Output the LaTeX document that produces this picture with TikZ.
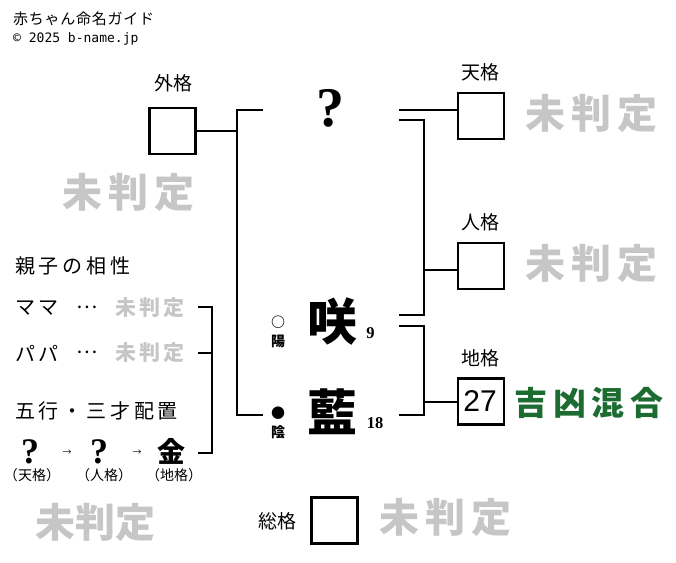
\documentclass[tikz,border=0pt]{standalone}
\usepackage{fontspec}
\setmainfont{Liberation Serif}
\newfontfamily\jp{Noto Sans CJK JP}
\newfontfamily\jphead{Noto Sans CJK JP}[LetterSpace=5]
\newfontfamily\jpsect{Noto Sans CJK JP}[LetterSpace=19]
\newfontfamily\jppend{Noto Sans CJK JP}[LetterSpace=15]
\newfontfamily\jpgood{Noto Sans CJK JP}[LetterSpace=18]
\newfontfamily\mono{DejaVu Sans Mono}
\newfontfamily\lsans{Liberation Sans}
\definecolor{pendgray}{RGB}{198,198,198}
\definecolor{goodgreen}{RGB}{28,108,50}
\newcommand{\fs}[1]{\fontsize{#1}{#1}\selectfont}
\begin{document}
\begin{tikzpicture}[x=1pt,y=-1pt,
  every node/.style={inner sep=0pt},
  kbox/.style={draw, line width=2.4pt, minimum width=46pt, minimum height=46pt},
  conn/.style={line width=1.2pt},
  lbl/.style={font=\jp\fs{19}},
  pendbig/.style={text=pendgray, font=\jppend\bfseries\fs{40}},
  pendsmall/.style={text=pendgray, font=\jppend\bfseries\fs{21}},
  namechar/.style={font=\jp\bfseries\fs{50}},
  strokes/.style={font=\bfseries\fs{16.5}},
  yinyang/.style={font=\jp\bfseries\fs{14}},
  sect/.style={font=\jpsect\fs{20}, anchor=west},
  kakulbl/.style={font=\jp\fs{14}}
]
\useasboundingbox (0,0) rectangle (676,562);
% header
\node[anchor=west, font=\jphead\fs{15}] (title) at (13,19) {赤ちゃん命名ガイド};
\node[anchor=west, font=\mono\fs{13}] (copy) at (13,39) {© 2025 b-name.jp};
% outer box
\node[lbl] (gl) at (173,83) {外格};
\node[kbox] (gb) at (172.5,131) {};
\node[pendbig] (gp) at (128,192) {未判定};
% top unknown char
\node[font=\bfseries\fs{56}] (q) at (330,108) {?};
% name chars
\node[namechar] (c1) at (332,322) {咲};
\node[namechar] (c2) at (332,412) {藍};
\node[strokes] (n1) at (370.5,333) {9};
\node[strokes] (n2) at (375,423) {18};
\node[yinyang] (o1) at (278,322) {○};
\node[yinyang] (y1) at (278,341) {陽};
\node[yinyang] (o2) at (278,413) {●};
\node[yinyang] (y2) at (278,432) {陰};
% left bracket
\coordinate (la) at (263,110);
\coordinate (lb) at (263,415);
\coordinate (lx) at (237,131);
\draw[conn] (la) -- (237,110) -- (237,415) -- (lb);
\draw[conn] (gb.east |- lx) -- (lx);
% right: ten
\node[lbl] (tl) at (480,72.5) {天格};
\node[kbox] (tb) at (481,116) {};
\node[pendbig] (tp) at (591,113.5) {未判定};
\coordinate (t1) at (399,110);
\draw[conn] (t1) -- (t1 -| tb.west);
% right: jin
\node[lbl] (jl) at (480,222.5) {人格};
\node[kbox] (jb) at (481,266) {};
\node[pendbig] (jp) at (591,263.5) {未判定};
\coordinate (j1) at (399,120);
\coordinate (j2) at (399,315);
\coordinate (jm) at (424,270);
\draw[conn] (j1) -- (424,120) -- (424,315) -- (j2);
\draw[conn] (jm) -- (jm -| jb.west);
% right: chi
\node[lbl] (cl) at (480,358) {地格};
\node[kbox] (cb) at (481,401.5) {};
\node[font=\lsans\fs{30}] (cn) at (480,401.5) {27};
\node[text=goodgreen, font=\jpgood\bfseries\fs{33}] (cr) at (589,403) {吉凶混合};
\coordinate (d1) at (399,326);
\coordinate (d2) at (399,415);
\coordinate (dm) at (424,402);
\draw[conn] (d1) -- (424,326) -- (424,415) -- (d2);
\draw[conn] (dm) -- (dm -| cb.west);
% total
\node[lbl] (sl) at (277,521) {総格};
\node[kbox] (sb) at (334.5,520.5) {};
\node[pendbig] (sp) at (445,517) {未判定};
% left section
\node[sect] (oya) at (15,266) {親子の相性};
\node[sect] (mama) at (15,308) {ママ};
\node[font=\jp\fs{20}] (mdots) at (87,307) {…};
\node[pendsmall] (mp) at (150,308) {未判定};
\node[sect] (papa) at (15,353) {パパ};
\node[font=\jp\fs{20}] (pdots) at (87,352) {…};
\node[pendsmall] (pp) at (150,353) {未判定};
\node[sect] (gogyo) at (15,411) {五行・三才配置};
\node[font=\bfseries\fs{36}] (g1) at (30,452) {?};
\node[font=\jp\fs{9}] (a1) at (67,453) {→};
\node[font=\bfseries\fs{36}] (g2) at (99,452) {?};
\node[font=\jp\fs{9}] (a2) at (137,453) {→};
\node[font=\jp\bfseries\fs{28}] (g3) at (171,451) {金};
\node[kakulbl] (k1) at (32,475) {（天格）};
\node[kakulbl] (k2) at (104,475) {（人格）};
\node[kakulbl] (k3) at (174,475) {（地格）};
\node[text=pendgray, font=\jp\bfseries\fs{40}] (bp) at (95,522) {未判定};
\coordinate (b1) at (198,307);
\coordinate (b2) at (198,353);
\coordinate (b3) at (198,453);
\draw[conn] (b1) -- (212,307) -- (212,453) -- (b3);
\draw[conn] (b2) -- (212,353);
\end{tikzpicture}
\end{document}
